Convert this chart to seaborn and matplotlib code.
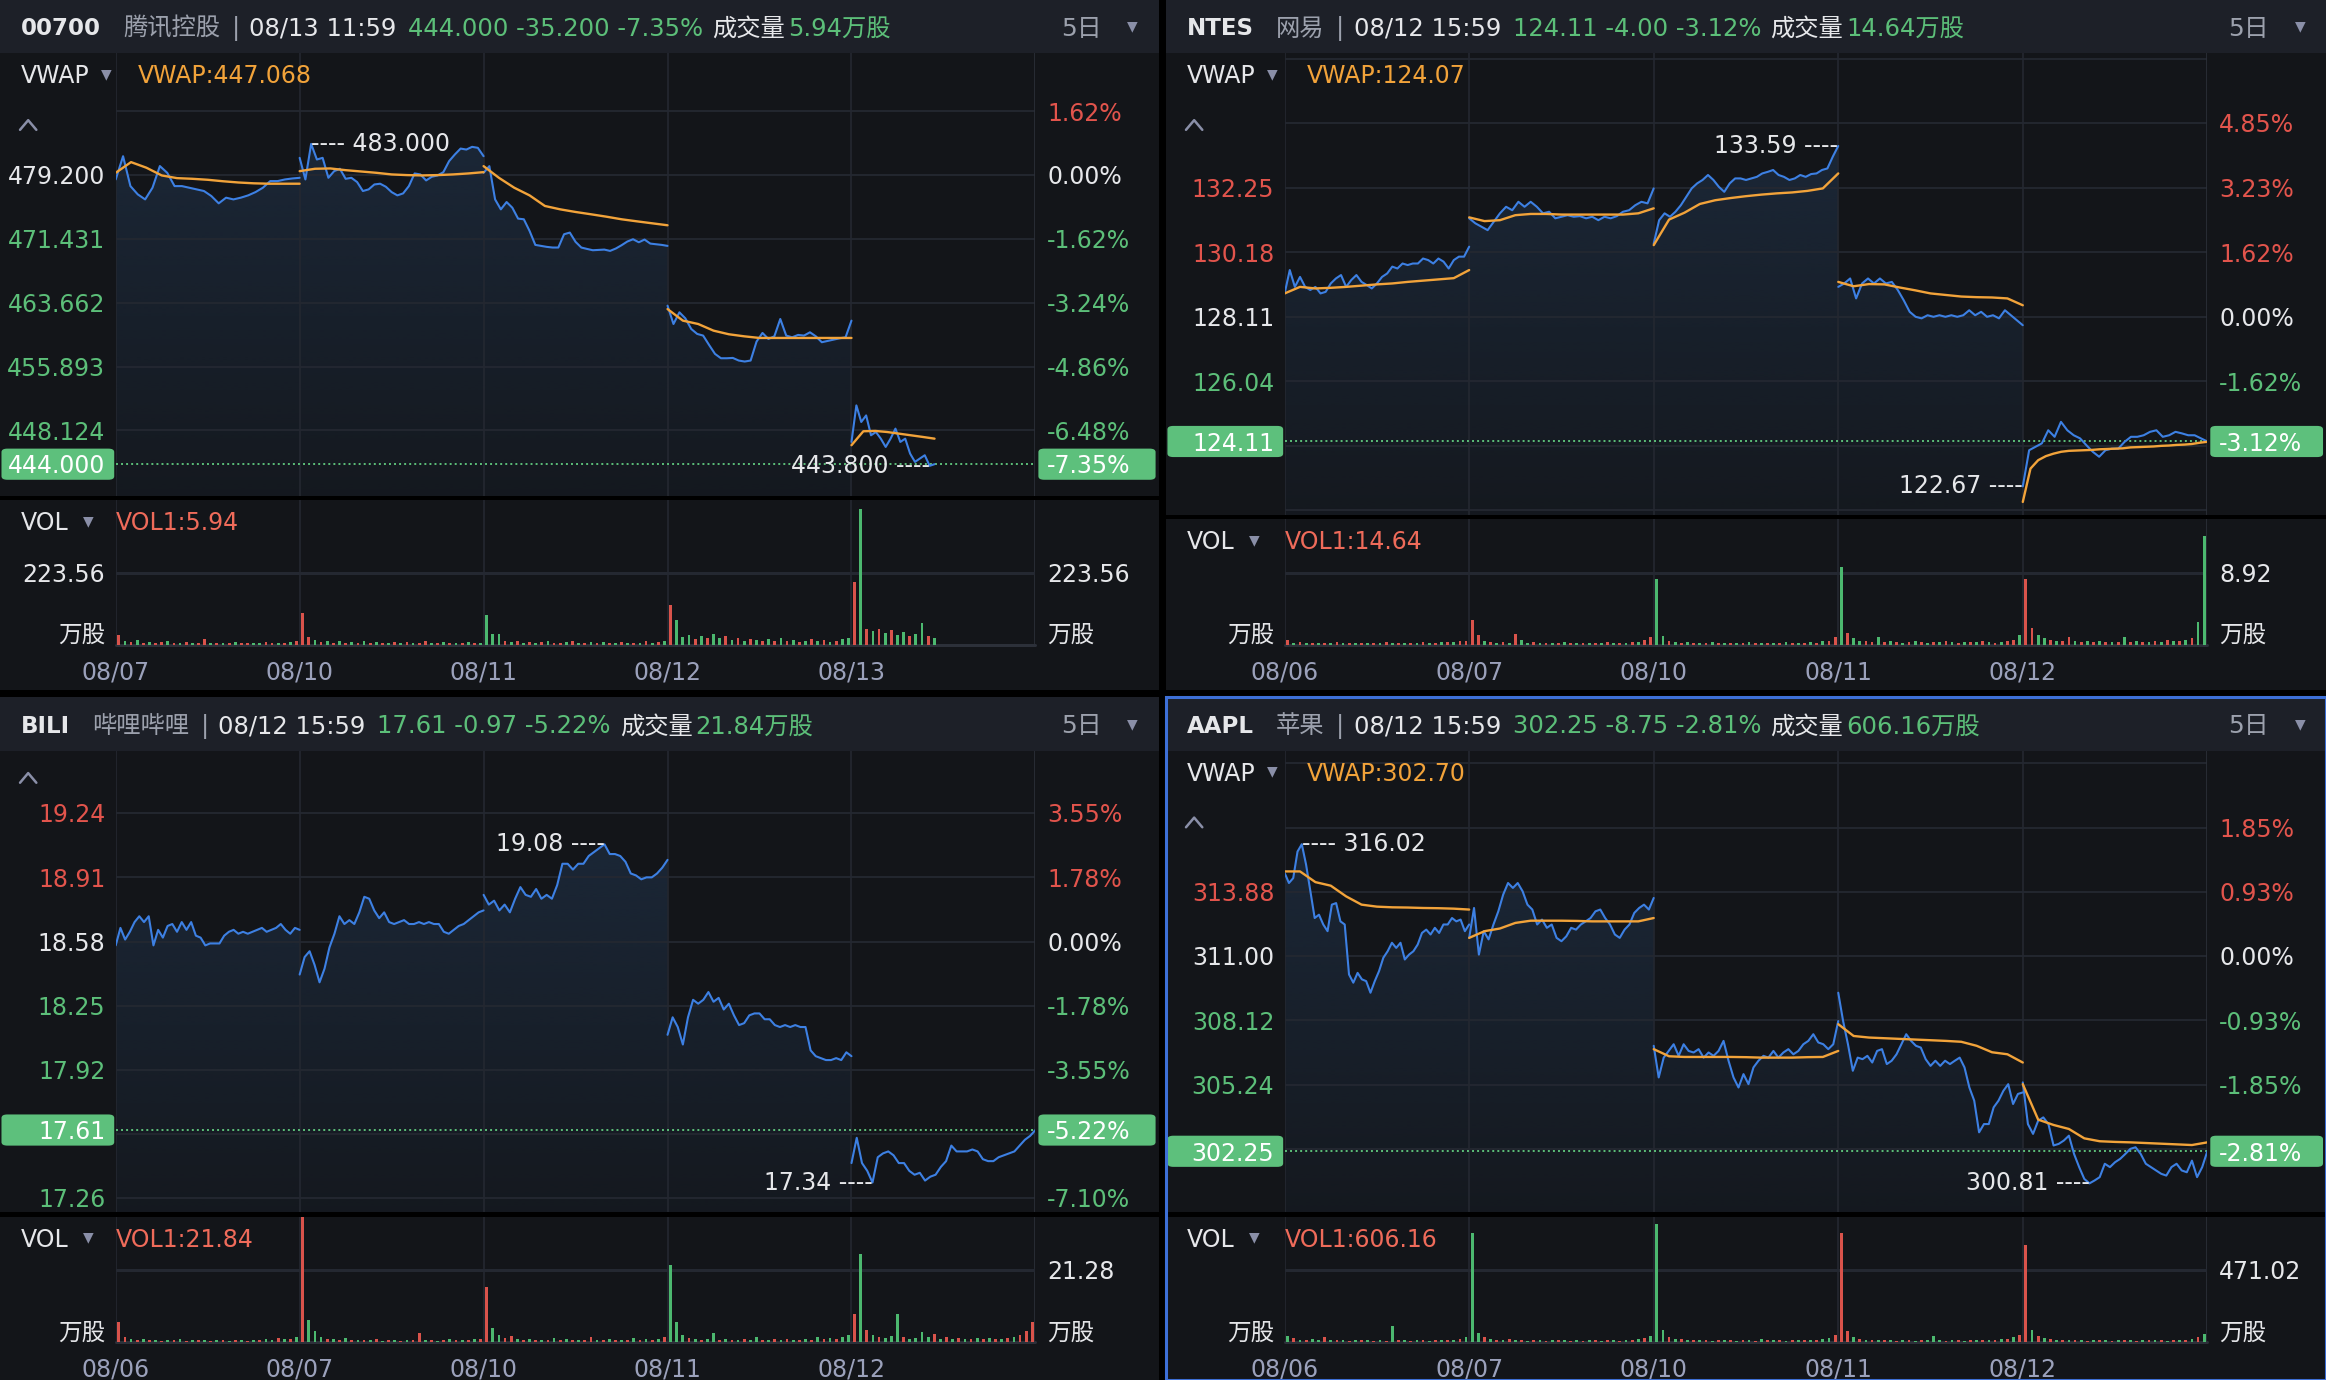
import matplotlib
matplotlib.use("Agg")
import matplotlib.pyplot as plt
import numpy as np
import pandas as pd
import seaborn as sns
from matplotlib.colors import to_rgb
from matplotlib.lines import Line2D
from matplotlib.patches import FancyBboxPatch, Polygon, Rectangle

# ---------------- data ----------------
HK_DATES = ["08/07", "08/10", "08/11", "08/12", "08/13"]
US_DATES = ["08/06", "08/07", "08/10", "08/11", "08/12"]

# 00700 腾讯控股, one list per trading day (evenly spaced samples)
T_PRICE = [
    [478.67, 481.50, 477.86, 476.85, 476.24, 477.66, 480.30, 479.48, 477.86, 477.86, 477.66, 477.46, 477.26,
     476.65, 475.76, 476.45, 476.24, 476.45, 476.73, 477.13, 477.66, 478.47, 478.47, 478.67, 478.79, 478.87],
    [481.30, 478.67, 483.00, 481.10, 481.30, 478.87, 479.68, 479.97, 478.75, 478.87, 478.35, 477.26, 477.46,
     478.06, 478.15, 477.78, 477.13, 476.73, 476.97, 477.86, 479.40, 479.28, 478.55, 479.00, 479.16, 479.56,
     480.90, 481.71, 482.43, 482.31, 482.64, 482.52, 481.50],
    [479.48, 480.29, 476.24, 475.03, 475.92, 475.23, 473.90, 473.82, 472.40, 470.70, 470.58, 470.46, 470.38,
     470.38, 472.00, 472.20, 471.07, 470.38, 470.21, 470.05, 470.09, 470.13, 469.97, 470.26, 470.66, 471.11,
     471.39, 471.02, 471.35, 470.86, 470.78, 470.70, 470.58],
    [463.30, 461.07, 462.49, 461.76, 460.46, 459.86, 459.66, 458.52, 457.43, 456.90, 456.90, 456.94, 456.62,
     456.50, 456.62, 458.93, 459.98, 459.25, 459.57, 461.68, 459.66, 459.45, 459.74, 459.66, 460.06, 459.57,
     458.85, 459.01, 459.17, 459.33, 459.45, 461.48],
    [446.71, 451.16, 449.14, 449.94, 447.52, 447.92, 447.11, 446.10, 447.11, 448.33, 446.71, 447.11, 445.29,
     444.28, 444.69, 445.09, 443.80, 444.00],
]
T_VWAP = [
    [479.48, 480.78, 480.10, 479.16, 478.83, 478.75, 478.63, 478.45, 478.30, 478.20, 478.15, 478.15, 478.15],
    [479.68, 479.97, 480.01, 479.80, 479.64, 479.48, 479.28, 479.20, 479.16, 479.20, 479.28, 479.40, 479.56],
    [480.29, 478.87, 477.66, 476.73, 475.44, 475.03, 474.71, 474.43, 474.14, 473.82, 473.57, 473.33, 473.09],
    [462.89, 461.48, 461.07, 460.26, 459.82, 459.57, 459.37, 459.37, 459.37, 459.37, 459.37, 459.37, 459.37],
    [446.31, 448.01, 448.05, 447.92, 447.72, 447.52, 447.32, 447.11],
]
T_VOL = [
    [30, 12, 8, 14, 6, 9, 5, 7, 10, 6, 5, 8, 4, 6, 16, 5, 4, 6, 5, 7, 4, 5, 6, 4, 8, 5, 6, 4, 7, 10],
    [99, 25, 14, 8, 10, 6, 12, 5, 8, 6, 10, 5, 7, 4, 6, 9, 5, 8, 6, 4, 12, 6, 5, 8, 4, 6, 5, 8, 5, 6],
    [92, 34, 32, 10, 8, 12, 6, 9, 5, 7, 10, 6, 5, 8, 12, 6, 5, 9, 4, 7, 6, 5, 8, 4, 6, 5, 10, 6, 8, 12],
    [123, 76, 24, 30, 18, 28, 22, 34, 20, 26, 15, 22, 12, 18, 14, 10, 16, 12, 20, 10, 14, 8, 12, 18, 10,
     14, 9, 12, 16, 22],
    [196, 424, 48, 42, 50, 36, 44, 30, 38, 28, 34, 67, 26, 22],
]
T_VOL_DIR = ["rgrgr grrgr grgrr grgrg rrggr rgrgr", "rrgrg rgrgr grgrg rgrgr rgrgr grgrg",
             "gggrg rgrgr grrgr grgrg rgrgr grgrg", "rgggr grggr grgrg rgrgr grgrg rgrgg",
             "rgrgr grggr ggrg"]

# NTES 网易
N_PRICE = [
    [128.86, 129.61, 129.07, 129.39, 129.07, 128.97, 129.07, 128.86, 128.91, 129.18, 129.34, 129.45, 129.07,
     129.29, 129.45, 129.23, 129.13, 129.02, 129.18, 129.39, 129.50, 129.72, 129.66, 129.82, 129.77, 129.82,
     129.82, 129.98, 129.93, 129.82, 129.98, 129.88, 129.66, 129.93, 130.04, 130.04, 130.36],
    [131.27, 131.11, 131.00, 130.89, 131.16, 131.43, 131.64, 131.53, 131.80, 131.64, 131.80, 131.64, 131.43,
     131.48, 131.27, 131.32, 131.37, 131.32, 131.34, 131.27, 131.32, 131.21, 131.32, 131.27, 131.34, 131.48,
     131.53, 131.69, 131.80, 131.75, 132.23],
    [130.46, 131.21, 131.43, 131.32, 131.48, 131.69, 131.96, 132.23, 132.39, 132.50, 132.66, 132.50, 132.28,
     132.12, 132.39, 132.55, 132.55, 132.50, 132.55, 132.60, 132.71, 132.76, 132.82, 132.66, 132.60, 132.50,
     132.55, 132.66, 132.60, 132.69, 132.71, 132.82, 132.87, 133.25, 133.59],
    [129.07, 129.18, 129.34, 128.70, 129.18, 129.34, 129.18, 129.34, 129.18, 129.23, 128.97, 128.64, 128.27,
     128.11, 128.06, 128.16, 128.11, 128.16, 128.11, 128.16, 128.11, 128.16, 128.32, 128.16, 128.27, 128.11,
     128.16, 128.06, 128.32, 128.16, 128.00, 127.84],
    [122.67, 123.83, 123.94, 124.05, 124.47, 124.26, 124.74, 124.47, 124.31, 124.21, 123.99, 123.78, 123.62,
     123.83, 123.88, 123.88, 124.10, 124.26, 124.26, 124.31, 124.42, 124.47, 124.26, 124.31, 124.42, 124.37,
     124.31, 124.31, 124.21, 124.11],
]
N_VWAP = [
    [128.86, 129.07, 129.02, 129.04, 129.07, 129.11, 129.15, 129.18, 129.23, 129.27, 129.31, 129.35, 129.61],
    [131.30, 131.18, 131.21, 131.37, 131.41, 131.41, 131.39, 131.39, 131.39, 131.39, 131.39, 131.43, 131.59],
    [130.41, 131.23, 131.45, 131.73, 131.85, 131.92, 131.98, 132.03, 132.07, 132.10, 132.15, 132.23, 132.71],
    [129.23, 129.09, 129.16, 129.15, 129.05, 128.96, 128.86, 128.81, 128.76, 128.74, 128.73, 128.70, 128.48],
    [122.17, 123.24, 123.51, 123.64, 123.72, 123.78, 123.81, 123.82, 123.83, 123.84, 123.86, 123.87, 123.88,
     123.89, 123.92, 123.93, 123.94, 123.95, 123.97, 123.98, 124.00, 124.01, 124.03, 124.07, 124.10],
]
N_VOL = [
    [0.6, 0.2, 0.3, 0.15, 0.2, 0.25, 0.15, 0.2, 0.3, 0.15, 0.2, 0.15, 0.25, 0.2, 0.15, 0.2, 0.3, 0.15, 0.2,
     0.25, 0.15, 0.2, 0.3, 0.2, 0.25, 0.3, 0.35, 0.3, 0.4, 0.5],
    [3.0, 1.2, 0.4, 0.3, 0.2, 0.3, 0.2, 1.3, 0.6, 0.2, 0.3, 0.2, 0.15, 0.25, 0.2, 0.3, 0.15, 0.2, 0.25, 0.2,
     0.15, 0.2, 0.3, 0.2, 0.25, 0.2, 0.3, 0.35, 0.6, 1.0],
    [8.2, 1.1, 0.5, 0.3, 0.2, 0.3, 0.2, 0.25, 0.2, 0.3, 0.15, 0.2, 0.25, 0.2, 0.15, 0.3, 0.2, 0.25, 0.2, 0.15,
     0.2, 0.3, 0.2, 0.25, 0.2, 0.3, 0.25, 0.4, 0.5, 0.9],
    [9.6, 1.5, 0.8, 0.5, 0.4, 0.3, 0.9, 0.3, 0.4, 0.3, 0.25, 0.3, 0.4, 0.3, 0.25, 0.35, 0.3, 0.4, 0.3, 0.25,
     0.3, 0.35, 0.3, 0.4, 0.3, 0.25, 0.3, 0.4, 0.6, 1.2],
    [8.1, 2.0, 1.2, 0.8, 0.6, 0.5, 0.4, 0.9, 0.4, 0.3, 0.5, 0.3, 0.4, 0.3, 0.35, 0.3, 1.0, 0.3, 0.4, 0.3,
     0.35, 0.4, 0.3, 0.6, 0.4, 0.5, 0.6, 0.8, 2.8, 13.5],
]
N_VOL_DIR = ["rgrgr grgrg rgrgr grgrg rgrgr grgrr", "rrgrg rgrgg rgrgr grgrg rgrgr grgrr",
             "ggrgr grgrg rgrgr grgrg rgrgr grgrr", "grggr rgrgr grgrg rgrgr grgrg rgrrg",
             "rrggr grrgr grgrg rgrgr grgrg rgrgg"]

# BILI 哔哩哔哩 (no VWAP line on this chart)
B_PRICE = [
    [18.56, 18.65, 18.59, 18.63, 18.68, 18.71, 18.68, 18.71, 18.56, 18.64, 18.60, 18.66, 18.67, 18.63, 18.68,
     18.64, 18.68, 18.61, 18.60, 18.56, 18.57, 18.57, 18.57, 18.61, 18.63, 18.64, 18.62, 18.63, 18.62, 18.63,
     18.64, 18.65, 18.63, 18.64, 18.65, 18.67, 18.64, 18.62, 18.65, 18.64],
    [18.41, 18.50, 18.53, 18.46, 18.37, 18.44, 18.55, 18.62, 18.71, 18.67, 18.69, 18.67, 18.73, 18.81, 18.80,
     18.74, 18.70, 18.73, 18.68, 18.67, 18.68, 18.69, 18.67, 18.67, 18.68, 18.67, 18.68, 18.67, 18.67, 18.63,
     18.62, 18.64, 18.66, 18.67, 18.69, 18.71, 18.73, 18.74],
    [18.82, 18.77, 18.79, 18.74, 18.77, 18.73, 18.80, 18.86, 18.82, 18.81, 18.85, 18.80, 18.82, 18.80, 18.87,
     18.98, 18.98, 18.95, 18.98, 18.98, 19.02, 19.04, 19.06, 19.08, 19.03, 19.03, 19.02, 18.99, 18.93, 18.92,
     18.90, 18.91, 18.91, 18.93, 18.96, 19.00],
    [18.10, 18.19, 18.14, 18.05, 18.19, 18.28, 18.26, 18.28, 18.32, 18.27, 18.29, 18.23, 18.26, 18.20, 18.15,
     18.16, 18.20, 18.21, 18.21, 18.18, 18.18, 18.15, 18.14, 18.15, 18.14, 18.15, 18.14, 18.14, 18.02, 17.99,
     17.98, 17.97, 17.97, 17.98, 17.97, 18.01, 17.99],
    [17.44, 17.57, 17.44, 17.40, 17.34, 17.47, 17.49, 17.50, 17.48, 17.44, 17.44, 17.40, 17.38, 17.39, 17.35,
     17.37, 17.38, 17.42, 17.45, 17.53, 17.50, 17.50, 17.50, 17.51, 17.50, 17.46, 17.45, 17.45, 17.47, 17.48,
     17.49, 17.50, 17.53, 17.56, 17.58, 17.61],
]
B_VOL = [
    [5.9, 1.5, 1.0, 0.6, 0.8, 0.5, 0.7, 0.4, 0.6, 0.5, 0.8, 0.4, 0.6, 0.5, 0.7, 0.4, 0.5, 0.6, 0.4, 0.5,
     0.7, 0.4, 0.6, 0.5, 0.8, 0.6, 1.2, 0.8, 1.0, 1.5],
    [37.0, 6.6, 3.2, 1.5, 1.0, 0.8, 0.6, 1.2, 0.5, 0.7, 0.6, 0.5, 0.8, 0.4, 0.6, 0.5, 0.4, 0.7, 0.5, 2.8,
     0.6, 0.5, 0.4, 0.6, 0.8, 0.5, 0.6, 0.7, 0.8, 1.0],
    [16.4, 4.1, 2.0, 1.2, 1.9, 0.8, 0.6, 0.9, 0.5, 0.7, 0.6, 1.1, 0.5, 0.8, 0.6, 0.5, 0.7, 1.5, 0.6, 0.5,
     0.8, 0.6, 0.5, 0.7, 1.2, 0.6, 0.8, 0.7, 1.0, 1.4],
    [22.9, 5.9, 2.0, 1.2, 0.9, 0.7, 0.8, 2.8, 0.6, 1.0, 0.7, 0.5, 0.8, 0.6, 1.4, 0.7, 0.5, 0.8, 0.6, 0.9,
     0.7, 0.5, 0.8, 0.6, 1.5, 0.8, 1.2, 1.0, 1.6, 2.2],
    [8.4, 26.0, 3.5, 2.0, 1.5, 1.2, 1.8, 8.3, 1.4, 1.0, 1.2, 2.9, 1.5, 2.4, 1.0, 1.6, 0.9, 1.2, 1.0, 0.8,
     1.1, 0.9, 1.3, 1.0, 0.8, 1.2, 1.5, 2.2, 3.2, 5.9],
]
B_VOL_DIR = ["rrgrg rgrgr grgrg rgrgr grgrg grgrg", "rgggr grgrg rgrgr grgrr grgrg rgrgr",
             "rggrr grgrg rgrgr grrgr grgrg rgrgr", "gggrg rggrg rgrgg rgrgr grgrg rgrgg",
             "rgrgr gggrg gggrg rgrgr grgrg rgrrr"]

# AAPL 苹果
A_PRICE = [
    [314.73, 314.28, 314.50, 315.69, 316.02, 315.10, 313.91, 312.71, 312.86, 312.42, 312.12, 313.31, 313.38,
     312.56, 312.42, 310.18, 309.81, 310.25, 309.96, 309.88, 309.36, 309.88, 310.33, 310.93, 311.22, 311.60,
     311.37, 311.60, 310.85, 311.07, 311.22, 311.52, 312.04, 312.19, 311.97, 312.27, 312.04, 312.42, 312.42,
     312.71, 312.56, 312.64, 312.12, 312.42],
    [311.82, 313.16, 311.07, 312.12, 311.75, 312.42, 313.01, 313.76, 314.28, 314.06, 314.28, 313.91, 313.31,
     313.09, 312.42, 312.64, 312.27, 312.42, 311.82, 311.67, 311.89, 312.27, 312.19, 312.42, 312.56, 312.71,
     313.01, 313.09, 312.71, 312.42, 311.97, 311.82, 312.19, 312.42, 312.94, 313.16, 313.31, 313.09, 313.61],
    [306.98, 305.56, 306.45, 306.75, 307.05, 306.53, 307.05, 306.75, 306.68, 306.83, 306.45, 306.68, 306.53,
     306.75, 307.20, 306.31, 305.56, 305.11, 305.71, 305.26, 306.01, 306.31, 306.53, 306.45, 306.75, 306.45,
     306.68, 306.83, 306.60, 306.75, 307.05, 307.20, 307.50, 307.13, 307.05, 306.83, 307.05, 308.09],
    [309.36, 308.09, 307.05, 305.86, 306.45, 306.38, 306.53, 306.23, 306.75, 306.83, 306.16, 306.31, 306.60,
     307.05, 307.50, 307.20, 306.98, 306.90, 306.38, 306.08, 306.31, 306.08, 306.31, 306.16, 306.31, 306.45,
     306.01, 305.11, 304.52, 303.10, 303.47, 303.47, 304.22, 304.52, 304.96, 305.26, 304.37, 304.82, 304.89],
    [305.34, 303.47, 303.03, 303.62, 303.77, 303.47, 302.51, 302.58, 302.73, 302.95, 302.13, 301.54, 301.01,
     300.81, 300.94, 301.09, 301.69, 301.54, 301.76, 301.91, 302.13, 302.36, 302.43, 302.13, 301.69, 301.54,
     301.39, 301.24, 301.16, 301.54, 301.69, 301.39, 301.31, 301.83, 301.09, 301.54, 302.25],
]
A_VWAP = [
    [314.80, 314.80, 314.32, 314.16, 313.68, 313.31, 313.22, 313.19, 313.18, 313.16, 313.15, 313.13, 313.09],
    [311.82, 312.12, 312.24, 312.49, 312.59, 312.59, 312.59, 312.58, 312.56, 312.56, 312.56, 312.56, 312.71],
    [306.83, 306.51, 306.48, 306.48, 306.48, 306.48, 306.47, 306.45, 306.45, 306.45, 306.47, 306.48, 306.75],
    [307.95, 307.42, 307.35, 307.32, 307.29, 307.26, 307.23, 307.20, 307.16, 306.98, 306.69, 306.60, 306.23],
    [305.26, 303.67, 303.43, 303.25, 302.83, 302.70, 302.67, 302.65, 302.62, 302.59, 302.56, 302.53, 302.65],
]
A_VOL = [
    [40, 25, 15, 12, 18, 10, 30, 12, 10, 15, 8, 12, 10, 14, 9, 11, 8, 102, 10, 12, 9, 15, 11, 8, 12, 10,
     14, 12, 20, 35],
    [717, 60, 30, 20, 15, 12, 18, 10, 14, 9, 12, 10, 8, 12, 10, 15, 9, 11, 8, 12, 10, 9, 14, 10, 8, 12,
     15, 18, 25, 40],
    [772, 80, 35, 20, 18, 12, 15, 10, 12, 9, 14, 11, 10, 8, 12, 10, 9, 20, 11, 10, 14, 9, 12, 10, 11, 15,
     12, 20, 28, 45],
    [717, 70, 30, 18, 15, 12, 14, 10, 12, 9, 11, 10, 8, 12, 10, 40, 11, 9, 10, 12, 9, 11, 10, 14, 12, 15,
     18, 22, 30, 45],
    [638, 80, 40, 25, 18, 14, 12, 15, 10, 12, 9, 11, 10, 14, 9, 12, 10, 11, 9, 13, 10, 12, 11, 9, 14, 12,
     15, 20, 30, 50],
]
A_VOL_DIR = ["grgrg grgrg rgrgr grgrg rgrgr grgrg", "ggrgr grgrg rgrgr grgrg rgrgr grgrg",
             "ggrgr grgrg rgrgr grgrg rgrgr grggr", "rrgrg rgrgr grgrg ggrgr grgrg rgrgr",
             "rgrgr grgrg rgrgr grgrg rgrgr grgrg"]

# ---------------- look ----------------
W, H = 1568, 930            # layout units (reference at 1/1.4834 scale)
BG = "#131519"
HEADER_BG = "#1d2028"
GRID = "#242831"
EDGE = "#2c3039"
WHITE = "#e6e7ea"
GRAY = "#9ca1ad"
ICON = "#8a8fa8"
DATE_C = "#9ba1bb"
GREEN = "#5cbf79"
RED = "#e2544c"
SALMON = "#ef6b5a"
ORANGE = "#f2a33a"
BLUE = "#3d80e3"
BOX_GREEN = "#5dc07c"
FILL = "#21344c"
VOL_COLORS = {"r": "#d9534b", "g": "#4cb86f"}
VOL_SLOTS = 30
FS = 17
TEXT_DY = 1.5               # matplotlib centres on the full glyph box; nudge digits down

sns.set_theme(style="dark", rc={"figure.facecolor": "black", "axes.facecolor": BG})
plt.rcParams["font.family"] = ["DejaVu Sans", "Noto Sans CJK SC"]


def fx(x):
    return x / W


def fy(y):
    return 1 - y / H


def fig_rect(fig, x0, y0, x1, y1, color, z=-2):
    fig.add_artist(Rectangle((fx(x0), fy(y1)), (x1 - x0) / W, (y1 - y0) / H, transform=fig.transFigure,
                             facecolor=color, edgecolor="none", zorder=z))


def label(fig, x, y, s, color, fs=FS, ha="left", **kw):
    return fig.text(fx(x), fy(y + TEXT_DY), s, color=color, fontsize=fs, ha=ha, va="center", zorder=6, **kw)


def chevron(fig, x, y):
    fig.add_artist(Line2D([fx(x - 5.5), fx(x), fx(x + 5.5)], [fy(y + 3.5), fy(y - 3), fy(y + 3.5)],
                          transform=fig.transFigure, color=ICON, lw=1.8, zorder=6))


def day_frame(days, last_frac):
    rows = []
    for d, vals in enumerate(days):
        frac = last_frac if d == len(days) - 1 else 1.0
        for x, v in zip(d + np.linspace(0, frac, len(vals)), vals):
            rows.append((d, x, v))
    return pd.DataFrame(rows, columns=["day", "x", "value"])


def level_color(k):
    return RED if k > 0 else (WHITE if k == 0 else GREEN)


def draw_panel(fig, rend, p):
    x0, x1, y0, sep, vb, y1 = p["x0"], p["x1"], p["y0"], p["sep"], p["vol_base"], p["y1"]
    al, ar = p["ax_l"], p["ax_r"]
    top = y0 + 36
    base, step, dec = p["base"], p["step"], p["dec"]
    ylo, yhi = p["ylim"]

    fig_rect(fig, x0, y0, x1, y1, BG, z=-3)
    fig_rect(fig, x0, y0, x1, top, HEADER_BG, z=-2)
    fig_rect(fig, x0, sep - 1, x1, sep + 2, "black", z=4)

    def py(v):
        return top + (yhi - v) / (yhi - ylo) * (sep - top)

    # header line
    x = x0 + 14
    pieces = [(p["code"], WHITE, "bold", 16.5, 15), (p["name"], GRAY, "normal", 17.5, 8),
              ("|", GRAY, "normal", 17.5, 6), (p["time"], WHITE, "normal", 17.5, 8),
              (p["quote"], GREEN, "normal", 17.5, 6), ("成交量", WHITE, "normal", 17.5, 2),
              (p["turnover"], GREEN, "normal", 17.5, 0)]
    for txt, col, wt, size, gap in pieces:
        t = label(fig, x, y0 + 18, txt, col, fs=size, fontweight=wt)
        x += t.get_window_extent(renderer=rend).width * W / fig.bbox.width + gap
    label(fig, x1 - 66, y0 + 18, "5日", GRAY, fs=18)
    label(fig, x1 - 21, y0 + 16.5, "▼", ICON, fs=10)

    # ---- price axes
    ax = fig.add_axes([fx(al), fy(sep), (ar - al) / W, (sep - top) / H])
    ax.set_axis_off()
    pad = 0.01 * (yhi - ylo)
    for k in range(-12, 13):
        v = base + k * step
        if ylo + pad < v < yhi - pad:
            ax.axhline(v, color=GRID, lw=1.3, zorder=1)
    for d in range(6):
        ax.axvline(d, color=EDGE if d == 5 else GRID, lw=1.2, zorder=1)

    price = day_frame(p["price"], p["last_frac"])
    sub = price[price.day < 4]
    verts = [(sub.x.iloc[0], ylo)] + list(zip(sub.x, sub.value)) + [(sub.x.iloc[-1], ylo)]
    poly = Polygon(verts, closed=True, facecolor="none", edgecolor="none")
    ax.add_patch(poly)
    grad = np.zeros((256, 1, 4))
    grad[..., :3] = to_rgb(FILL)
    grad[..., 3] = np.linspace(0.7, 0.12, 256)[:, None]
    im = ax.imshow(grad, extent=[0, 5, ylo, yhi], origin="upper", aspect="auto", zorder=0.5,
                   interpolation="bilinear")
    im.set_clip_path(poly)

    sns.lineplot(data=price, x="x", y="value", units="day", estimator=None, sort=False, color=BLUE,
                 linewidth=1.5, ax=ax, legend=False, zorder=3)
    if p["vwap"] is not None:
        vw = day_frame(p["vwap"], p["last_frac"])
        sns.lineplot(data=vw, x="x", y="value", units="day", estimator=None, sort=False, color=ORANGE,
                     linewidth=1.7, ax=ax, legend=False, zorder=4)
    ax.axhline(p["cur"], color=GREEN, lw=1.4, ls=(0, (1, 1.6)), zorder=2)
    ax.set_xlim(0, 5)
    ax.set_ylim(ylo, yhi)

    # high / low markers
    for idx in (price.value.idxmax(), price.value.idxmin()):
        px_, pv = price.x[idx], price.value[idx]
        s = f"{pv:.{dec}f}"
        if px_ < 2.5:
            ax.text(px_, pv, "---- " + s, color=WHITE, fontsize=FS, ha="left", va="center", zorder=5)
        else:
            ax.text(px_, pv, s + " ----", color=WHITE, fontsize=FS, ha="right", va="center", zorder=5)

    # axis labels
    for k in p["left_k"]:
        v = base + k * step
        label(fig, al - 7, py(v), f"{v:.{dec}f}", level_color(k), ha="right")
    for k in p["right_k"]:
        label(fig, ar + 8, py(base + k * step), f"{k * step / base * 100:.2f}%", level_color(k))

    # current price boxes
    cy = py(p["cur"])
    for bx0, bx1 in ((x0 + 1, al - 1), (ar + 2, x1 - 2)):
        fig.add_artist(FancyBboxPatch((fx(bx0), fy(cy + 10.5)), (bx1 - bx0) / W, 21 / H,
                                      boxstyle="round,pad=0,rounding_size=0.0025", transform=fig.transFigure,
                                      facecolor=BOX_GREEN, edgecolor="none", zorder=5))
    label(fig, al - 7, cy, f"{p['cur']:.{dec}f}", "white", ha="right")
    label(fig, ar + 8, cy, p["cur_pct"], "white")

    # indicator row
    if p["vwap"] is not None:
        label(fig, x0 + 14, y0 + 50, "VWAP", WHITE)
        label(fig, x0 + 68, y0 + 48.5, "▼", ICON, fs=10)
        label(fig, al + 15, y0 + 50, p["vwap_txt"], ORANGE)
        chevron(fig, x0 + 19, y0 + 84)
    else:
        chevron(fig, x0 + 19, y0 + 54)

    # ---- volume axes
    ax2 = fig.add_axes([fx(al), fy(vb), (ar - al) / W, (vb - sep - 2) / H])
    ax2.set_axis_off()
    for d in range(6):
        ax2.axvline(d, color=EDGE if d == 5 else GRID, lw=1.2, zorder=1)
    ax2.axhline(p["vol_tick"], color=GRID, lw=2.2, zorder=1)
    ax2.axhline(0, color=EDGE, lw=2.2, zorder=1, clip_on=False)
    xs, hs, cs = [], [], []
    for d, (vals, dirs) in enumerate(zip(p["vol"], p["vol_dir"])):
        dirs = dirs.replace(" ", "")
        for i, (v, c) in enumerate(zip(vals, dirs)):
            xs.append(d + (i + 0.5) / VOL_SLOTS)
            hs.append(v)
            cs.append(VOL_COLORS[c])
    ax2.bar(xs, hs, width=0.45 / VOL_SLOTS, color=cs, linewidth=0, zorder=3)
    ax2.set_xlim(0, 5)
    ax2.set_ylim(0, p["vol_top"])

    def vy(v):
        return vb - v / p["vol_top"] * (vb - sep - 2)

    label(fig, x0 + 14, sep + 16, "VOL", WHITE)
    label(fig, x0 + 56, sep + 14.5, "▼", ICON, fs=10)
    label(fig, al, sep + 16, p["vol_txt"], SALMON)
    tick_txt = f"{p['vol_tick']:.2f}"
    label(fig, ar + 8, vy(p["vol_tick"]), tick_txt, WHITE)
    if p["vol_tick_left"]:
        label(fig, al - 7, vy(p["vol_tick"]), tick_txt, WHITE, ha="right")
    label(fig, al - 7, vb - 8, "万股", WHITE, ha="right")
    label(fig, ar + 8, vb - 8, "万股", WHITE)

    for d, s in enumerate(p["dates"]):
        label(fig, al + d * (ar - al) / 5, vb + 17, s, DATE_C, ha="center")


PANELS = [
    dict(code="00700", name="腾讯控股", time="08/13 11:59", quote="444.000 -35.200 -7.35%", turnover="5.94万股",
         price=T_PRICE, vwap=T_VWAP, vol=T_VOL, vol_dir=T_VOL_DIR, dates=HK_DATES,
         base=479.2, step=7.769, dec=3, left_k=[0, -1, -2, -3, -4], right_k=[1, 0, -1, -2, -3, -4],
         cur=444.0, cur_pct="-7.35%", vwap_txt="VWAP:447.068", vol_txt="VOL1:5.94",
         vol_tick=223.56, vol_tick_left=True, last_frac=149 / 330,   # 09:30-11:59 of a 330-minute HK day
         x0=0, x1=781, y0=0, sep=335, vol_base=434.4, y1=465, ax_l=78, ax_r=698,
         ylim=(439.994, 494.015), vol_top=450.8),
    dict(code="NTES", name="网易", time="08/12 15:59", quote="124.11 -4.00 -3.12%", turnover="14.64万股",
         price=N_PRICE, vwap=N_VWAP, vol=N_VOL, vol_dir=N_VOL_DIR, dates=US_DATES,
         base=128.11, step=2.07, dec=2, left_k=[2, 1, 0, -1], right_k=[3, 2, 1, 0, -1],
         cur=124.11, cur_pct="-3.12%", vwap_txt="VWAP:124.07", vol_txt="VOL1:14.64",
         vol_tick=8.92, vol_tick_left=False, last_frac=1.0,
         x0=786, x1=1568, y0=0, sep=348, vol_base=434.4, y1=465, ax_l=866, ax_r=1488,
         ylim=(121.707, 136.56), vol_top=15.55),
    dict(code="BILI", name="哔哩哔哩", time="08/12 15:59", quote="17.61 -0.97 -5.22%", turnover="21.84万股",
         price=B_PRICE, vwap=None, vol=B_VOL, vol_dir=B_VOL_DIR, dates=US_DATES,
         base=18.58, step=0.33, dec=2, left_k=[2, 1, 0, -1, -2, -4], right_k=[2, 1, 0, -1, -2, -4],
         cur=17.61, cur_pct="-5.22%", vwap_txt="", vol_txt="VOL1:21.84",
         vol_tick=21.28, vol_tick_left=False, last_frac=1.0,
         x0=0, x1=781, y0=470, sep=818, vol_base=904.4, y1=930, ax_l=78, ax_r=698,
         ylim=(17.179, 19.561), vol_top=37.11),
    dict(code="AAPL", name="苹果", time="08/12 15:59", quote="302.25 -8.75 -2.81%", turnover="606.16万股",
         price=A_PRICE, vwap=A_VWAP, vol=A_VOL, vol_dir=A_VOL_DIR, dates=US_DATES,
         base=311.0, step=2.88, dec=2, left_k=[1, 0, -1, -2], right_k=[2, 1, 0, -1, -2],
         cur=302.25, cur_pct="-2.81%", vwap_txt="VWAP:302.70", vol_txt="VOL1:606.16",
         vol_tick=471.02, vol_tick_left=False, last_frac=1.0,
         x0=786, x1=1568, y0=470, sep=818, vol_base=904.4, y1=930, ax_l=866, ax_r=1488,
         ylim=(299.446, 320.207), vol_top=821.4),
]

fig = plt.figure(figsize=(23.26, 13.80), dpi=100, facecolor="black")
renderer = fig.canvas.get_renderer()
for panel in PANELS:
    draw_panel(fig, renderer, panel)

# selected panel outline
fig.add_artist(Rectangle((fx(786), fy(930)), (1568 - 786) / W, (930 - 469.5) / H, transform=fig.transFigure,
                         facecolor="none", edgecolor="#3d6fd6", lw=2.2, zorder=7))

fig.savefig("out.png", dpi=100, facecolor="black")
